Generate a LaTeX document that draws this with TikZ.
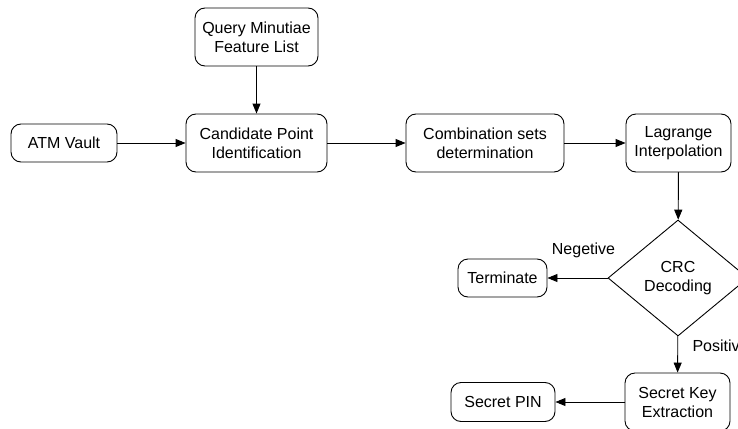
\documentclass[tikz,border=0pt]{standalone}
\usepackage{fontspec}
\setmainfont{Liberation Sans}
\usetikzlibrary{arrows.meta,shapes.geometric}

\begin{document}
\begin{tikzpicture}[x=1pt, y=-1pt, line cap=round, line join=round]

% ---------------- styles ----------------
\tikzset{
  flowBox/.style  ={draw, line width=0.9pt, rounded corners=10pt, align=center,
                    inner sep=0pt, font=\fontsize{16}{19}\selectfont},
  flowDec/.style  ={draw, diamond, line width=0.9pt, align=center, inner sep=0pt,
                    minimum width=140pt, minimum height=116pt,
                    font=\fontsize{16}{19}\selectfont},
  flowLbl/.style  ={font=\fontsize{16}{19}\selectfont},
  flowArr/.style  ={line width=0.9pt, -{Triangle[length=10pt, width=8pt]}}
}

% ---------------- frame ----------------
\useasboundingbox (0,0) rectangle (738,428);
\clip (0,0) rectangle (738,428);

% ---------------- top row ----------------
\node[flowBox, minimum width=123pt, minimum height=58pt] (query) at (256.5,37)
  {Query Minutiae\\Feature List};
\node[flowBox, minimum width=106pt, minimum height=38pt] (atm)   at (64,143)
  {ATM Vault};
\node[flowBox, minimum width=141pt, minimum height=58pt] (cand)  at (256.5,143)
  {Candidate Point\\Identification};
\node[flowBox, minimum width=158pt, minimum height=58pt] (comb)  at (485,143)
  {Combination sets\\determination};
\node[flowBox, minimum width=105pt, minimum height=58pt] (lag)   at (678.5,143)
  {Lagrange\\Interpolation};

% ---------------- decision ----------------
\node[flowDec] (crc) at (678,278) {CRC\\Decoding};
\node[flowBox, minimum width=89pt, minimum height=38pt] (term) at (502.5,278)
  {Terminate};

% ---------------- bottom row ----------------
\node[flowBox, minimum width=105pt, minimum height=58pt] (skey) at (677.5,402)
  {Secret Key\\Extraction};
\node[flowBox, minimum width=104pt, minimum height=39pt] (pin)  at (503,402)
  {Secret PIN};

% ---------------- connectors ----------------
\draw[flowArr] (query) -- (cand);
\draw[flowArr] (atm)   -- (cand);
\draw[flowArr] (cand)  -- (comb);
\draw[flowArr] (comb)  -- (lag);
\draw[flowArr] (lag)   -- (crc);
\draw[flowArr] (crc)   -- (term) node[flowLbl, pos=0.4, above=16pt] {Negetive};
\draw[flowArr] (crc)   -- (skey) node[flowLbl, pos=0.26, right=11pt] {Positive};
\draw[flowArr] (skey)  -- (pin);

\end{tikzpicture}
\end{document}
